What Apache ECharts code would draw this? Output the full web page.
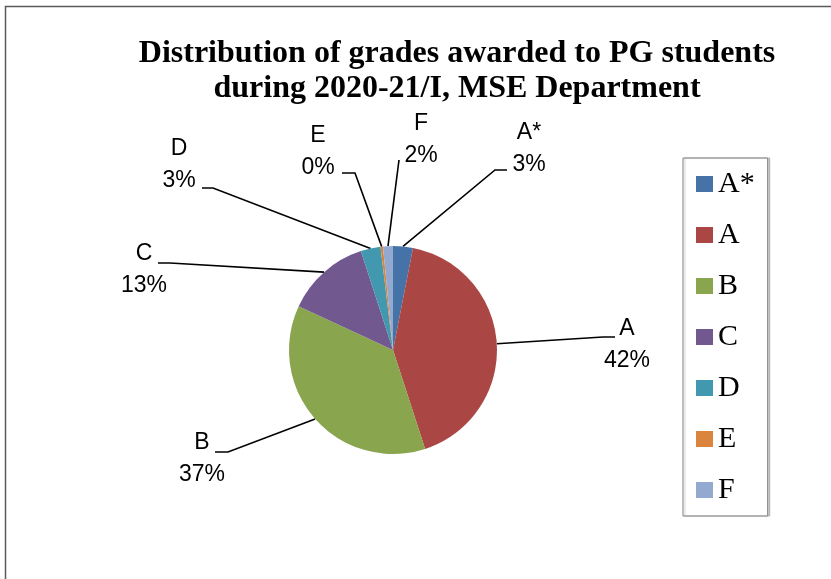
<!DOCTYPE html>
<html>
<head>
<meta charset="utf-8">
<title>Distribution of grades awarded to PG students</title>
<script src="https://cdn.jsdelivr.net/npm/echarts@6/dist/echarts.min.js"></script>
<style>
  html, body { margin: 0; padding: 0; background: #fff; }
  #chart { width: 831px; height: 579px; }
</style>
</head>
<body>
<div id="chart"></div>
<script>
// Grade categories and number of students per grade
const grades = ['A*', 'A', 'B', 'C', 'D', 'E', 'F'];
const studentCounts = [8, 109, 96, 34, 8, 1, 4];
const gradeColors = ['#4572A7', '#AA4643', '#89A54E', '#71588F', '#4198AF', '#DB843D', '#93A9CF'];

// Where each slice's label sits (centre of the text block, px)
const labelSpots = [
  [529, 149], [627, 345], [202, 459], [144, 270],
  [179, 165], [318, 152], [421, 140]
];
// Where each leader line meets its label, and the length of the short
// horizontal stub drawn just before it
const leaderEnds = [
  [507, 170], [615, 337], [215, 452], [158, 263],
  [202, 188], [342, 173], [399, 160]
];
const leaderStubs = [12, 12, 13, 12, 11, 13, 0];

const pieCenter = [393, 350];

const chart = echarts.init(document.getElementById('chart'), null, { renderer: 'canvas' });

const pieData = grades.map((g, i) => ({
  name: g,
  value: studentCounts[i],
  itemStyle: { color: gradeColors[i] }
}));

chart.setOption({
  animation: false,
  backgroundColor: '#ffffff',
  title: {
    text: 'Distribution of grades awarded to PG students\nduring 2020-21/I, MSE Department',
    left: 452,
    top: 31,
    textAlign: 'center',
    textStyle: {
      fontFamily: '"Times New Roman", "Liberation Serif", serif',
      fontWeight: 'bold',
      fontSize: 32,
      lineHeight: 35,
      color: '#000'
    }
  },
  legend: {
    orient: 'vertical',
    left: 683,
    top: 158,
    padding: [11, 13, 11, 13],
    itemGap: 21,
    itemWidth: 17,
    itemHeight: 16,
    icon: 'rect',
    borderColor: '#7f7f7f',
    borderWidth: 1,
    backgroundColor: '#ffffff',
    shadowColor: 'rgba(0,0,0,0.18)',
    shadowOffsetX: 2,
    shadowOffsetY: 0,
    shadowBlur: 1,
    selectedMode: false,
    textStyle: {
      fontFamily: '"Times New Roman", "Liberation Serif", serif',
      fontSize: 30,
      color: '#000'
    },
    data: grades
  },
  graphic: [{
    type: 'rect',
    silent: true,
    z: -1,
    shape: { x: 5.5, y: 6.5, width: 1000, height: 1000 },
    style: { fill: 'none', stroke: '#5a5a5a', lineWidth: 1.5 }
  }],
  series: [{
    type: 'pie',
    center: pieCenter,
    radius: 104,
    startAngle: 90,
    clockwise: true,
    avoidLabelOverlap: false,
    itemStyle: { borderWidth: 0 },
    label: {
      show: true,
      position: 'outside',
      fontFamily: 'Arial, "Liberation Sans", sans-serif',
      fontSize: 23,
      lineHeight: 32,
      color: '#000',
      align: 'center',
      formatter: p => p.name + '\n' + Math.round(p.percent) + '%'
    },
    labelLine: {
      show: true,
      length: 20,
      length2: 10,
      smooth: false,
      lineStyle: { color: '#000', width: 1.6 }
    },
    labelLayout: function (p) {
      const i = p.dataIndex;
      const s = labelSpots[i];
      const end = leaderEnds[i];
      const dir = end[0] > pieCenter[0] ? -1 : 1;
      const elbow = [end[0] + dir * leaderStubs[i], end[1]];
      const start = p.labelLinePoints ? p.labelLinePoints[0] : elbow;
      return {
        x: s[0], y: s[1], align: 'center', verticalAlign: 'middle',
        labelLinePoints: [start, elbow, end]
      };
    },
    emphasis: { disabled: true },
    data: pieData
  }]
});
</script>
</body>
</html>
